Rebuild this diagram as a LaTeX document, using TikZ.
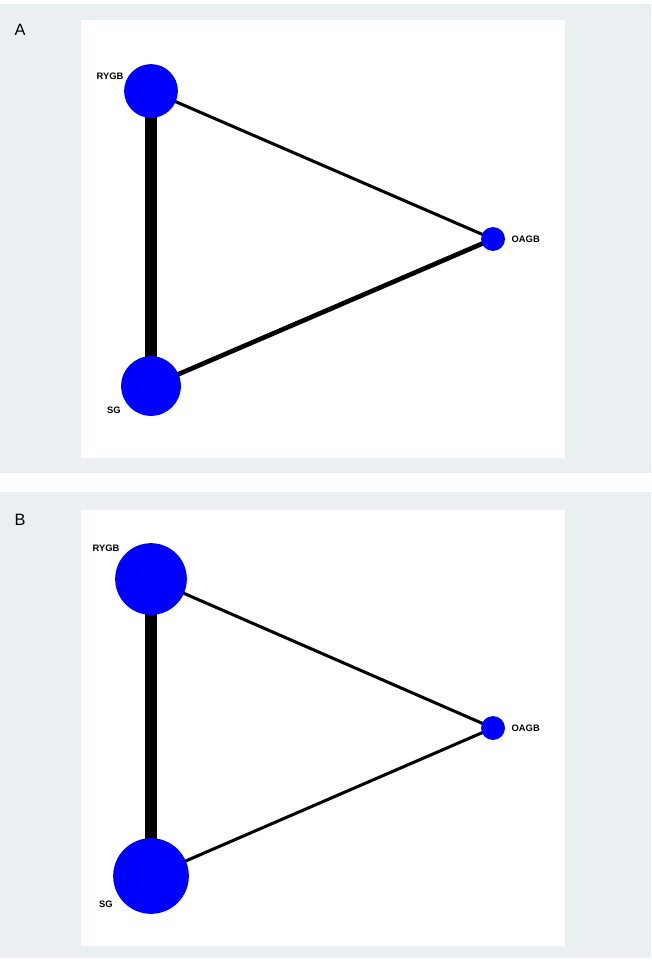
\documentclass[tikz,border=0pt]{standalone}
\usepackage{fontspec}
\setmainfont{Liberation Sans}
\usetikzlibrary{positioning}
\definecolor{panelbg}{HTML}{EAF0F2}
\definecolor{nodeblue}{HTML}{0000FF}
\pgfdeclarelayer{edges}
\pgfsetlayers{edges,main}
\tikzset{
  trt/.style={circle, fill=nodeblue, inner sep=0pt},
  lbl/.style={font=\bfseries\fontsize{8}{9}\selectfont},
  panellbl/.style={font=\fontsize{14}{16}\selectfont}
}
\begin{document}
\begin{tikzpicture}[x=0.03cm, y=-0.03cm]
    \useasboundingbox (0,0) rectangle (651,963);

    % Panel A
    \begin{pgfonlayer}{edges}
    \fill[panelbg] (0,4) rectangle (651,473);
    \fill[white] (81,20) rectangle (565,458);
    \end{pgfonlayer}
    \node[panellbl] (pa) at (20,30) {A};
    \node[trt, minimum size=54*0.85pt] (rygbA) at (151,91) {};
    \node[trt, minimum size=60*0.85pt] (sgA) at (151,386) {};
    \node[trt, minimum size=24*0.85pt] (oagbA) at (493,239) {};
    \begin{pgfonlayer}{edges}
    \draw[line width=10pt] (rygbA.center) -- (sgA.center);
    \draw[line width=2.6pt] (rygbA.center) -- (oagbA.center);
    \draw[line width=4pt] (sgA.center) -- (oagbA.center);
    \end{pgfonlayer}
    \node[lbl] (lrygbA) at (110,76) {RYGB};
    \node[lbl] (lsgA) at (114,410) {SG};
    \node[lbl, right=2pt of oagbA] (loagbA) {OAGB};

    % Panel B
    \begin{pgfonlayer}{edges}
    \fill[panelbg] (0,492) rectangle (651,958);
    \fill[white] (81,510) rectangle (565,946);
    \end{pgfonlayer}
    \node[panellbl] (pb) at (20,520) {B};
    \node[trt, minimum size=72*0.85pt] (rygbB) at (151,579) {};
    \node[trt, minimum size=76*0.85pt] (sgB) at (151,876) {};
    \node[trt, minimum size=24*0.85pt] (oagbB) at (493,728) {};
    \begin{pgfonlayer}{edges}
    \draw[line width=10pt] (rygbB.center) -- (sgB.center);
    \draw[line width=2.6pt] (rygbB.center) -- (oagbB.center);
    \draw[line width=2.6pt] (sgB.center) -- (oagbB.center);
    \end{pgfonlayer}
    \node[lbl] (lrygbB) at (106,548) {RYGB};
    \node[lbl] (lsgB) at (106,904) {SG};
    \node[lbl, right=2pt of oagbB] (loagbB) {OAGB};
\end{tikzpicture}
\end{document}
